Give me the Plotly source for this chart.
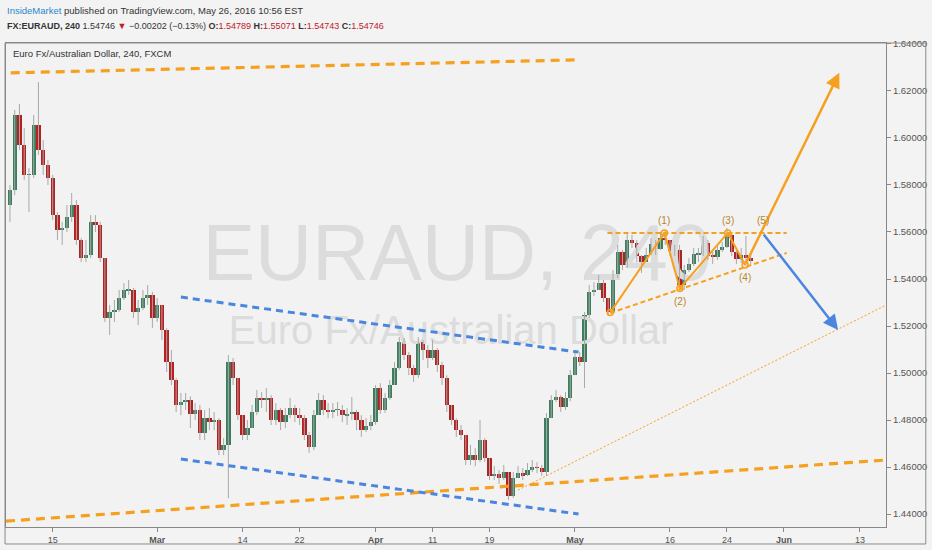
import plotly.graph_objects as go
import pandas as pd

# ---------------- data (EURAUD, 12h bars) ----------------
first_open = 1.5715
closes = [1.5779, 1.6098, 1.5970, 1.5843, 1.5843, 1.6055, 1.5949, 1.5885, 1.5830, 1.5672,
          1.5609, 1.5617, 1.5664, 1.5715, 1.5566, 1.5489, 1.5502, 1.5643, 1.5630, 1.5489,
          1.5234, 1.5260, 1.5268, 1.5319, 1.5353, 1.5353, 1.5260, 1.5277, 1.5319, 1.5332,
          1.5234, 1.5289, 1.5183, 1.5047, 1.4970, 1.4864, 1.4877, 1.4885, 1.4826, 1.4843,
          1.4745, 1.4808, 1.4791, 1.4800, 1.4672, 1.4694, 1.5047, 1.4979, 1.4821, 1.4736,
          1.4766, 1.4834, 1.4894, 1.4885, 1.4894, 1.4800, 1.4843, 1.4791, 1.4821, 1.4851,
          1.4821, 1.4808, 1.4736, 1.4685, 1.4821, 1.4885, 1.4843, 1.4838, 1.4843, 1.4843,
          1.4821, 1.4826, 1.4834, 1.4800, 1.4757, 1.4774, 1.4791, 1.4936, 1.4843, 1.4894,
          1.4949, 1.5021, 1.5132, 1.5077, 1.5021, 1.4991, 1.5132, 1.5098, 1.5064, 1.5098,
          1.5034, 1.4979, 1.4864, 1.4800, 1.4757, 1.4736, 1.4630, 1.4651, 1.4630, 1.4715,
          1.4638, 1.4562, 1.4570, 1.4553, 1.4579, 1.4477, 1.4553, 1.4574, 1.4566, 1.4587,
          1.4600, 1.4596, 1.4579, 1.4808, 1.4885, 1.4898, 1.4855, 1.4894, 1.4991, 1.5068,
          1.5047, 1.5247, 1.5345, 1.5353, 1.5383, 1.5319, 1.5260, 1.5417, 1.5515, 1.5460,
          1.5566, 1.5553, 1.5498, 1.5472, 1.5502, 1.5549, 1.5528, 1.5574, 1.5566, 1.5519,
          1.5523, 1.5374, 1.5438, 1.5464, 1.5506, 1.5506, 1.5553, 1.5498, 1.5494, 1.5523,
          1.5536, 1.5587, 1.5515, 1.5485, 1.5502, 1.5489, 1.5475]
highs = [1.5800, 1.6119, 1.6145, 1.6043, 1.5872, 1.6098, 1.6238, 1.5991, 1.5906, 1.5843,
         1.5685, 1.5643, 1.5715, 1.5766, 1.5736, 1.5574, 1.5566, 1.5672, 1.5672, 1.5643,
         1.5489, 1.5289, 1.5311, 1.5353, 1.5383, 1.5396, 1.5362, 1.5311, 1.5353, 1.5374,
         1.5345, 1.5319, 1.5289, 1.5190, 1.5098, 1.4979, 1.4915, 1.4915, 1.4900, 1.4872,
         1.4864, 1.4843, 1.4851, 1.4834, 1.4808, 1.4723, 1.5077, 1.5064, 1.4979, 1.4821,
         1.4800, 1.4864, 1.4928, 1.4919, 1.4936, 1.4906, 1.4872, 1.4851, 1.4851, 1.4894,
         1.4864, 1.4851, 1.4821, 1.4749, 1.4843, 1.4915, 1.4906, 1.4872, 1.4872, 1.4877,
         1.4864, 1.4851, 1.4898, 1.4843, 1.4821, 1.4808, 1.4821, 1.4949, 1.4957, 1.4915,
         1.4970, 1.5047, 1.5153, 1.5149, 1.5089, 1.5034, 1.5153, 1.5140, 1.5119, 1.5140,
         1.5106, 1.5047, 1.4990, 1.4864, 1.4808, 1.4779, 1.4736, 1.4694, 1.4681, 1.4800,
         1.4723, 1.4638, 1.4604, 1.4587, 1.4609, 1.4579, 1.4579, 1.4604, 1.4596, 1.4617,
         1.4630, 1.4621, 1.4609, 1.4830, 1.4906, 1.4928, 1.4906, 1.4919, 1.5013, 1.5098,
         1.5089, 1.5260, 1.5374, 1.5387, 1.5417, 1.5396, 1.5319, 1.5438, 1.5545, 1.5523,
         1.5600, 1.5587, 1.5566, 1.5502, 1.5532, 1.5574, 1.5566, 1.5600, 1.5609, 1.5566,
         1.5545, 1.5545, 1.5460, 1.5489, 1.5532, 1.5532, 1.5583, 1.5566, 1.5515, 1.5540,
         1.5557, 1.5617, 1.5600, 1.5523, 1.5532, 1.5583, 1.5515]
lows = [1.5643, 1.5757, 1.5949, 1.5821, 1.5685, 1.5830, 1.5928, 1.5843, 1.5800, 1.5651,
        1.5566, 1.5545, 1.5600, 1.5643, 1.5545, 1.5472, 1.5472, 1.5489, 1.5600, 1.5472,
        1.5217, 1.5162, 1.5217, 1.5260, 1.5311, 1.5332, 1.5234, 1.5204, 1.5268, 1.5289,
        1.5192, 1.5217, 1.5140, 1.5004, 1.4949, 1.4834, 1.4821, 1.4843, 1.4766, 1.4800,
        1.4715, 1.4715, 1.4757, 1.4757, 1.4651, 1.4651, 1.4468, 1.4949, 1.4800, 1.4715,
        1.4715, 1.4766, 1.4821, 1.4851, 1.4834, 1.4779, 1.4779, 1.4757, 1.4766, 1.4808,
        1.4791, 1.4779, 1.4715, 1.4660, 1.4672, 1.4821, 1.4821, 1.4808, 1.4808, 1.4817,
        1.4791, 1.4779, 1.4800, 1.4757, 1.4728, 1.4749, 1.4757, 1.4780, 1.4826, 1.4830,
        1.4885, 1.4949, 1.5013, 1.5055, 1.4991, 1.4962, 1.4979, 1.5055, 1.5021, 1.5055,
        1.5004, 1.4949, 1.4834, 1.4779, 1.4728, 1.4715, 1.4609, 1.4609, 1.4604, 1.4621,
        1.4621, 1.4545, 1.4545, 1.4528, 1.4545, 1.4460, 1.4468, 1.4553, 1.4545, 1.4562,
        1.4579, 1.4574, 1.4562, 1.4562, 1.4808, 1.4877, 1.4834, 1.4843, 1.4880, 1.4991,
        1.5030, 1.4936, 1.5234, 1.5328, 1.5353, 1.5302, 1.5243, 1.5251, 1.5404, 1.5438,
        1.5447, 1.5532, 1.5472, 1.5426, 1.5472, 1.5502, 1.5502, 1.5523, 1.5545, 1.5498,
        1.5498, 1.5362, 1.5353, 1.5430, 1.5455, 1.5472, 1.5498, 1.5481, 1.5464, 1.5481,
        1.5515, 1.5532, 1.5498, 1.5464, 1.5468, 1.5455, 1.5464]

x_tick_dates = ["2016-02-15", "2016-03-01", "2016-03-14", "2016-03-22", "2016-04-01", "2016-04-11",
                "2016-04-19", "2016-05-02", "2016-05-16", "2016-05-24", "2016-06-01", "2016-06-13"]
x_tick_text = ["15", "<b>Mar</b>", "14", "22", "<b>Apr</b>", "11", "19", "<b>May</b>", "16", "24",
               "<b>Jun</b>", "13"]
y_ticks = [1.44, 1.46, 1.48, 1.50, 1.52, 1.54, 1.56, 1.58, 1.60, 1.62, 1.64]

# drawings (date, price)
top_orange = [("2016-02-08 14:00", 1.6277), ("2016-04-29 23:00", 1.6332)]
bottom_orange = [("2016-02-08 02:00", 1.4370), ("2016-06-15 18:00", 1.4630)]
blue_upper = [("2016-03-03 12:00", 1.5323), ("2016-05-02 09:00", 1.5089)]
blue_lower = [("2016-03-03 12:00", 1.4634), ("2016-05-02 09:00", 1.4400)]
dotted_orange = [("2016-04-22 00:00", 1.4502), ("2016-06-15 18:00", 1.5289)]
wedge_top = [("2016-05-05 10:00", 1.5596), ("2016-06-01 07:00", 1.5596)]
wedge_bottom = [("2016-05-05 17:00", 1.5255), ("2016-06-01 07:00", 1.5511)]
wave_dates = ["2016-05-05 17:00", "2016-05-13 10:00", "2016-05-17 01:00", "2016-05-24 02:00",
              "2016-05-25 22:00"]
wave_prices = [1.5257, 1.5596, 1.5360, 1.5596, 1.5460]
wave_labels = ["", "(1)", "(2)", "(3)", "(4)"]
wave5 = ("2016-05-27 18:00", 1.5596)
up_target = ("2016-06-08 20:00", 1.6277)
down_target = ("2016-06-08 17:00", 1.5183)

# ---------------- build ----------------
days = pd.bdate_range("2016-02-08", "2016-05-26")
times = []
for d in days:
    times += [d, d + pd.Timedelta(hours=12)]
times = times[1:]

opens = [first_open] + closes[:-1]
UP, DOWN, WICK = "#3c7d5d", "#b3201f", "#a8a8a8"
ORANGE, BLUE = "#f6a01f", "#4b86de"
FONT = "Liberation Sans, Arial"

fig = go.Figure()

# watermark (drawn first, below candles)
fig.add_trace(go.Scatter(x=["2016-04-13 14:00"], y=[1.5480], mode="text", text=["EURAUD, 240"],
                         textfont=dict(size=79, color="#dcdcdc", family=FONT),
                         hoverinfo="skip"))
fig.add_trace(go.Scatter(x=["2016-04-12 23:00"], y=[1.5168], mode="text",
                         text=["Euro Fx/Australian Dollar"],
                         textfont=dict(size=40, color="#dcdcdc", family=FONT),
                         hoverinfo="skip"))

wx, wy = [], []
for t, h, l in zip(times, highs, lows):
    wx += [t, t, None]
    wy += [l, h, None]
fig.add_trace(go.Scatter(x=wx, y=wy, mode="lines", line=dict(color=WICK, width=1), hoverinfo="skip"))

base = [min(o, c) for o, c in zip(opens, closes)]
height = [max(abs(c - o), 0.00025) for o, c in zip(opens, closes)]
cols = [UP if c >= o else DOWN for o, c in zip(opens, closes)]
fig.add_trace(go.Bar(x=times, y=height, base=base, marker=dict(color=cols, line=dict(width=0)),
                     width=11 * 3600 * 1000))

def seg(pts, color, width, dash):
    (x0, y0), (x1, y1) = pts
    fig.add_shape(type="line", x0=x0, y0=y0, x1=x1, y1=y1, xref="x", yref="y",
                  line=dict(color=color, width=width, dash=dash))

seg(top_orange, ORANGE, 3.2, "9px,6px")
seg(bottom_orange, ORANGE, 3.2, "9px,6px")
seg(blue_upper, BLUE, 3, "7px,5px")
seg(blue_lower, BLUE, 3, "7px,5px")
seg(dotted_orange, ORANGE, 1, "2px,2px")
seg(wedge_top, ORANGE, 2, "5px,3px")
seg(wedge_bottom, ORANGE, 2, "5px,3px")

fig.add_trace(go.Scatter(x=wave_dates, y=wave_prices, mode="lines+markers",
                         line=dict(color=ORANGE, width=2),
                         marker=dict(symbol="circle-open", size=6, color=ORANGE, line=dict(width=1.5)),
                         hoverinfo="skip"))

fig.add_annotation(x=up_target[0], y=up_target[1], ax=wave_dates[-1], ay=wave_prices[-1],
                   xref="x", yref="y", axref="x", ayref="y", text="", showarrow=True,
                   arrowhead=2, arrowsize=1.2, arrowwidth=2.5, arrowcolor=ORANGE)
fig.add_annotation(x=down_target[0], y=down_target[1], ax=wave5[0], ay=wave5[1],
                   xref="x", yref="y", axref="x", ayref="y", text="", showarrow=True,
                   arrowhead=2, arrowsize=1.2, arrowwidth=2.5, arrowcolor=BLUE)

lab_font = dict(size=10, color="#b8862e", family=FONT)
for d, p, lab in zip(wave_dates, wave_prices, wave_labels):
    if not lab:
        continue
    above = lab in ("(1)", "(3)")
    fig.add_annotation(x=d, y=p, text=lab, showarrow=False, font=lab_font,
                       yshift=12 if above else -13)
fig.add_annotation(x=wave5[0], y=wave5[1], text="(5)", showarrow=False, font=lab_font, yshift=12)

# header texts
fig.add_annotation(xref="paper", yref="paper", x=-0.001, y=1.068, xanchor="left", yanchor="middle",
                   showarrow=False, font=dict(size=9.5, color="#333333", family=FONT),
                   text="<span style='color:#2b86c9'>InsideMarket</span> published on TradingView.com, May 26, 2016 10:56 EST")
fig.add_annotation(xref="paper", yref="paper", x=-0.001, y=1.035, xanchor="left", yanchor="middle",
                   showarrow=False, font=dict(size=9, color="#333333", family=FONT),
                   text="<b>FX:EURAUD, 240</b> 1.54746 <span style='color:#c0202a'>▼</span> −0.00202 (−0.13%) "
                        "<b>O:</b><span style='color:#c0202a'>1.54789</span> <b>H:</b><span style='color:#c0202a'>1.55071</span> "
                        "<b>L:</b><span style='color:#c0202a'>1.54743</span> <b>C:</b><span style='color:#c0202a'>1.54746</span>")
fig.add_annotation(xref="paper", yref="paper", x=0.0056, y=0.979, xanchor="left", yanchor="middle",
                   showarrow=False, font=dict(size=9.5, color="#333333", family=FONT),
                   text="Euro Fx/Australian Dollar, 240, FXCM")

# outer frame
fig.add_shape(type="rect", xref="paper", yref="paper", x0=-0.0011, x1=1.0452, y0=-0.0351, y1=1.0,
              line=dict(color="#8a8a8a", width=1), fillcolor="rgba(0,0,0,0)", layer="above")

fig.update_layout(
    width=932, height=550, margin=dict(l=5, r=42, t=43, b=23),
    paper_bgcolor="#f3f3f3", plot_bgcolor="#f2f2f2", showlegend=False, bargap=0,
    xaxis=dict(type="date", range=["2016-02-08 02:00", "2016-06-15 18:00"],
               rangebreaks=[dict(bounds=["sat", "mon"])],
               tickvals=x_tick_dates, ticktext=x_tick_text, ticks="outside", ticklen=4,
               tickcolor="#888888", showline=True, mirror=True, linecolor="#888888",
               showgrid=False, zeroline=False,
               tickfont=dict(size=9, color="#555555", family=FONT)),
    yaxis=dict(side="right", range=[1.4345, 1.6404], tickvals=y_ticks,
               ticktext=[f"{v:.5f}" for v in y_ticks], ticks="outside", ticklen=4,
               tickcolor="#888888", showline=True, mirror=True, linecolor="#888888",
               showgrid=False, zeroline=False,
               tickfont=dict(size=9.5, color="#555555", family=FONT)),
)

fig.write_html("out.html", config={"displayModeBar": False},
               post_script="document.body.style.margin='0px';document.body.style.padding='0px';")
